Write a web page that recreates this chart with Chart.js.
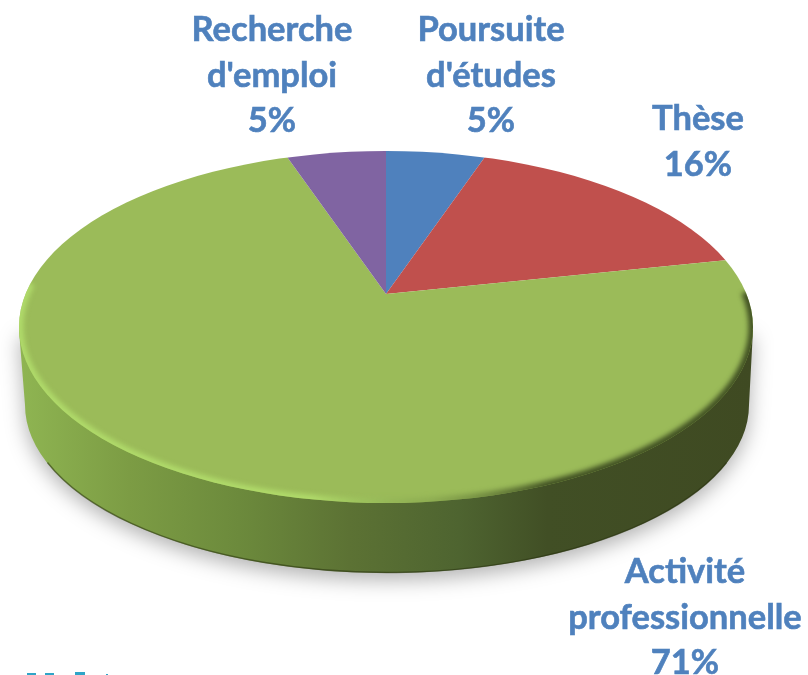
<!DOCTYPE html>
<html>
<head>
<meta charset="utf-8">
<title>Pie</title>
<script src="https://cdn.jsdelivr.net/npm/chart.js@4"></script>
<style>
  html, body { margin: 0; background: #fff; }
  canvas { display: block; }
</style>
</head>
<body>
<canvas id="pie" width="808" height="675"></canvas>
<script>
// Data, clockwise from 12 o'clock
const categories = ["Poursuite d'études", 'Thèse', 'Activité professionnelle', "Recherche d'emploi"];
const values = [5, 16, 71, 5];
const colors = ['#4f81bd', '#c0504d', '#9bbb59', '#8064a2'];

// Where each label goes: centre x, first line y, how the name is broken
const labelSpots = [
  { x: 491, y: 30, lines: ["Poursuite", "d'études"] },
  { x: 698, y: 119, lines: ['Thèse'] },
  { x: 685, y: 572, lines: ['Activité', 'professionnelle'] },
  { x: 272, y: 30, lines: ['Recherche', "d'emploi"] }
];

// Look of the fake 3D disc
const apex = { x: 386, y: 294 };
const squash = 0.465;
const topFace = { x: 386, y: 327, rx: 367, ry: 176 };
const base = { x: 387, y: 405, rx: 362, ry: 168 };

function wallPath(ctx) {
  ctx.beginPath();
  ctx.moveTo(topFace.x - topFace.rx, topFace.y + 3);
  ctx.lineTo(base.x - base.rx, base.y);
  ctx.ellipse(base.x, base.y, base.rx, base.ry, 0, Math.PI, 0, true);
  ctx.lineTo(topFace.x + topFace.rx, topFace.y + 3);
  ctx.closePath();
}

function facePath(ctx) {
  ctx.beginPath();
  ctx.ellipse(topFace.x, topFace.y, topFace.rx, topFace.ry, 0, 0, Math.PI * 2);
}

const disc3d = {
  id: 'disc3d',
  beforeDatasetsDraw(chart) {
    const ctx = chart.ctx;
    const arc = chart.getDatasetMeta(0).data[0];

    // side wall with its soft shadow
    const wall = ctx.createLinearGradient(19, 0, 753, 0);
    wall.addColorStop(0, '#8fb552');
    wall.addColorStop(0.15, '#7c9c44');
    wall.addColorStop(0.3, '#6c8a3c');
    wall.addColorStop(0.45, '#5c7234');
    wall.addColorStop(0.6, '#4e6430');
    wall.addColorStop(0.72, '#414f25');
    wall.addColorStop(1, '#3f4a22');
    ctx.save();
    ctx.shadowColor = 'rgba(0, 0, 0, 0.3)';
    ctx.shadowBlur = 20;
    ctx.shadowOffsetY = 7;
    wallPath(ctx);
    ctx.fillStyle = wall;
    ctx.fill();
    ctx.restore();

    // darker line where the wall meets the ground
    ctx.save();
    ctx.beginPath();
    ctx.ellipse(base.x, base.y, base.rx - 0.5, base.ry - 0.5, 0, 0.35, Math.PI - 0.35);
    ctx.strokeStyle = 'rgba(40, 50, 15, 0.55)';
    ctx.lineWidth = 1.5;
    ctx.stroke();
    ctx.restore();

    // slices are cut by the face outline, squashed around the apex
    ctx.save();
    facePath(ctx);
    ctx.clip();
    ctx.translate(apex.x, apex.y);
    ctx.scale(1, squash);
    ctx.translate(-arc.x, -arc.y);
  },
  afterDatasetsDraw(chart) {
    const ctx = chart.ctx;
    ctx.restore();

    // bevel on the rim, light on the left and dark on the right
    const rim = ctx.createLinearGradient(19, 0, 753, 0);
    rim.addColorStop(0, 'rgba(178, 222, 108, 0.9)');
    rim.addColorStop(0.4, 'rgba(178, 222, 108, 0.9)');
    rim.addColorStop(0.56, 'rgba(130, 160, 75, 0.5)');
    rim.addColorStop(0.72, 'rgba(60, 75, 32, 0.95)');
    rim.addColorStop(1, 'rgba(60, 75, 32, 0.95)');
    ctx.save();
    facePath(ctx);
    ctx.clip();
    ctx.filter = 'blur(2.5px)';
    ctx.strokeStyle = rim;
    ctx.lineWidth = 9;
    ctx.beginPath();
    ctx.ellipse(topFace.x, topFace.y, topFace.rx, topFace.ry, 0, -0.2, Math.PI + 0.25);
    ctx.stroke();
    ctx.restore();
  },
  afterDraw(chart) {
    const ctx = chart.ctx;
    ctx.save();
    ctx.font = 'bold 34.5px Lato, "Open Sans", sans-serif';
    ctx.fillStyle = '#4f81bd';
    ctx.strokeStyle = '#4f81bd';
    ctx.lineWidth = 0.6;
    ctx.textAlign = 'center';
    ctx.textBaseline = 'middle';
    labelSpots.forEach((spot, i) => {
      const lines = spot.lines.concat(values[i] + '%');
      lines.forEach((line, n) => {
        ctx.fillText(line, spot.x, spot.y + n * 45.5);
        ctx.strokeText(line, spot.x, spot.y + n * 45.5);
      });
    });
    // scraps of a cropped logo along the bottom edge
    ctx.fillStyle = '#2fa5c8';
    ctx.fillRect(27, 673, 9, 2);
    ctx.fillRect(45, 673, 9, 2);
    ctx.fillRect(75, 672, 10, 3);
    ctx.fillRect(106, 674, 2, 1);
    ctx.restore();
  }
};

new Chart(document.getElementById('pie'), {
  type: 'pie',
  data: {
    labels: categories,
    datasets: [{
      data: values,
      backgroundColor: colors,
      borderWidth: 0,
      clip: false
    }]
  },
  options: {
    responsive: false,
    animation: false,
    radius: 470,
    plugins: {
      legend: { display: false },
      tooltip: { enabled: false }
    }
  },
  plugins: [disc3d]
});
</script>
</body>
</html>
